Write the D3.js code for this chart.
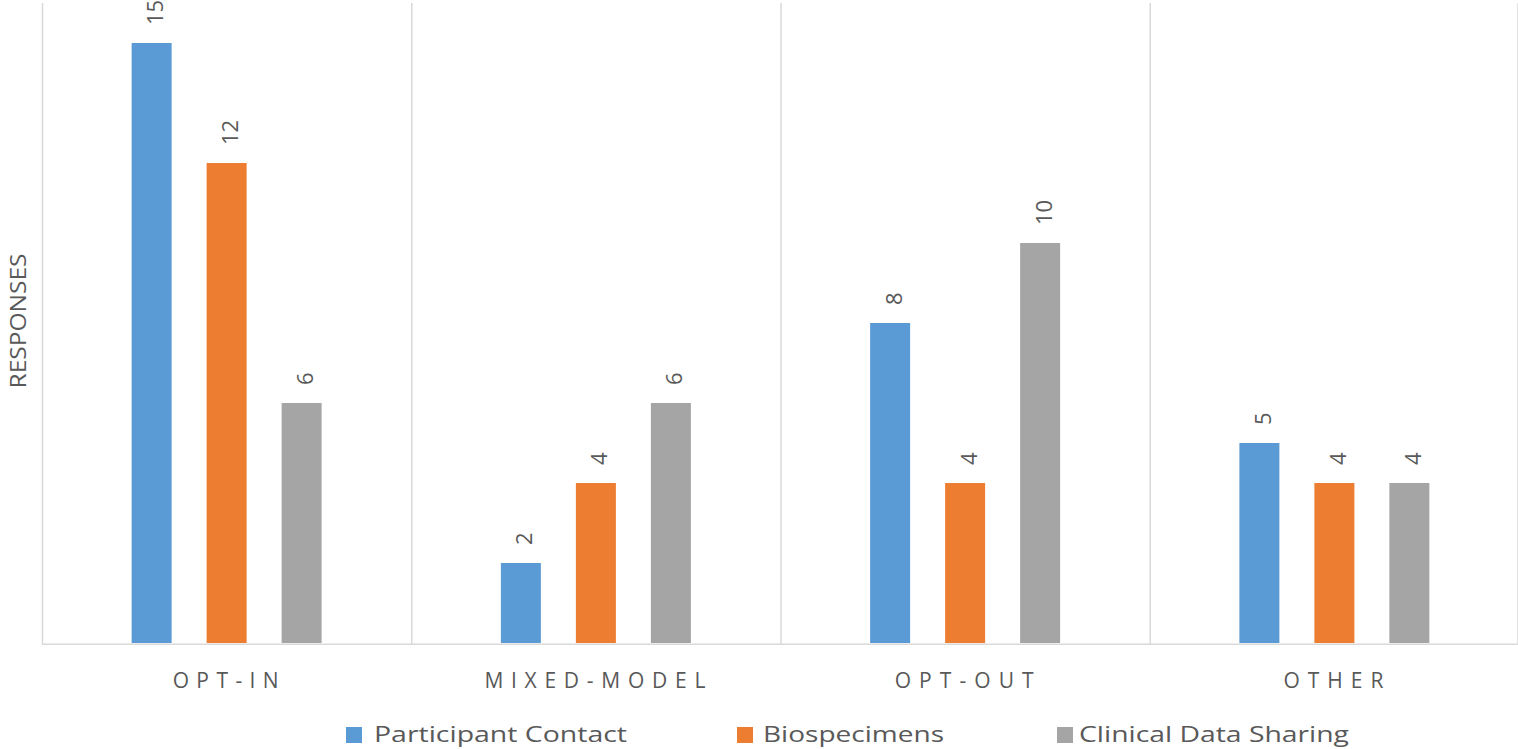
<!DOCTYPE html>
<html>
<head>
<meta charset="utf-8">
<script src="https://cdn.jsdelivr.net/npm/d3@7"></script>
<style>
  html, body { margin: 0; padding: 0; background: #fff; overflow: hidden; }
  svg { display: block; }
  text { font-family: "Open Sans", sans-serif; fill: #595959; }
</style>
</head>
<body>
<svg id="chart" width="1518" height="749"></svg>
<script>
const categories = ["OPT-IN", "MIXED-MODEL", "OPT-OUT", "OTHER"];
const seriesNames = ["Participant Contact", "Biospecimens", "Clinical Data Sharing"];
const participantContact = [15, 2, 8, 5];
const biospecimens = [12, 4, 4, 4];
const clinicalDataSharing = [6, 6, 10, 4];
const seriesColors = ["#5B9BD5", "#ED7D31", "#A5A5A5"];
const categoryLabelWidths = [106, 221, 139, 100];
const legendTextWidths = [253, 181, 270];

const seriesValues = [participantContact, biospecimens, clinicalDataSharing];
const rows = categories.map((c, i) => ({
  category: c,
  values: seriesNames.map((s, j) => ({ series: s, value: seriesValues[j][i], color: seriesColors[j] }))
}));

const svg = d3.select("#chart");
const W = 1518, H = 749;
const plotLeft = 42, plotRight = 1519, plotTop = 3, baseline = 643;

const x0 = d3.scaleBand().domain(categories).range([plotLeft, plotRight]).padding(0);
const x1 = d3.scaleBand().domain(seriesNames).range([-95, 95]).paddingInner(35 / 75).paddingOuter(0);
const y = d3.scaleLinear().domain([0, 15]).range([baseline, 43]);

// vertical category separators
const bounds = categories.map(c => x0(c)).concat([plotRight - 1.5]);
svg.append("g").selectAll("line").data(bounds).join("line")
  .attr("x1", d => d + 0.5).attr("x2", d => d + 0.5)
  .attr("y1", plotTop).attr("y2", baseline + 1)
  .attr("stroke", "#D9D9D9").attr("stroke-width", 1.5);

// bars
const groups = svg.append("g").selectAll("g").data(rows).join("g")
  .attr("transform", d => `translate(${x0(d.category) + x0.bandwidth() / 2},0)`);

groups.selectAll("rect").data(d => d.values).join("rect")
  .attr("x", d => x1(d.series))
  .attr("width", x1.bandwidth())
  .attr("y", d => y(d.value))
  .attr("height", d => y(0) - y(d.value))
  .attr("fill", d => d.color);

// data labels (rotated)
groups.selectAll("text").data(d => d.values).join("text")
  .attr("transform", d => `translate(${x1(d.series) + x1.bandwidth() / 2 + 2.5},${y(d.value) - 18}) rotate(-90)`)
  .attr("dominant-baseline", "central")
  .attr("text-anchor", "start")
  .attr("font-size", 22)
  .text(d => d.value);

// x axis line
svg.append("line")
  .attr("x1", plotLeft).attr("x2", W)
  .attr("y1", baseline + 1.2).attr("y2", baseline + 1.2)
  .attr("stroke", "#D9D9D9").attr("stroke-width", 1.6);

// category labels
svg.append("g").selectAll("text").data(categories).join("text")
  .attr("x", (d, i) => x0(d) + x0.bandwidth() / 2 - categoryLabelWidths[i] / 2 - 1)
  .attr("y", 688)
  .attr("font-size", 21)
  .attr("textLength", (d, i) => categoryLabelWidths[i])
  .attr("lengthAdjust", "spacing")
  .text(d => d);

// y axis title
svg.append("text")
  .attr("transform", `translate(26,${(plotTop + baseline) / 2 - 2}) rotate(-90)`)
  .attr("text-anchor", "middle")
  .attr("font-size", 22)
  .attr("textLength", 135)
  .attr("lengthAdjust", "spacingAndGlyphs")
  .text("RESPONSES");

// legend
const legendSquareX = [346, 737, 1057];
const legendTextX = [374, 763, 1079];
const leg = svg.append("g").selectAll("g").data(seriesNames).join("g");
leg.append("rect")
  .attr("x", (d, i) => legendSquareX[i]).attr("y", 727)
  .attr("width", 16).attr("height", 16)
  .attr("fill", (d, i) => seriesColors[i]);
leg.append("text")
  .attr("x", (d, i) => legendTextX[i]).attr("y", 742)
  .attr("font-size", 22)
  .attr("textLength", (d, i) => legendTextWidths[i])
  .attr("lengthAdjust", "spacingAndGlyphs")
  .text(d => d);
</script>
</body>
</html>
